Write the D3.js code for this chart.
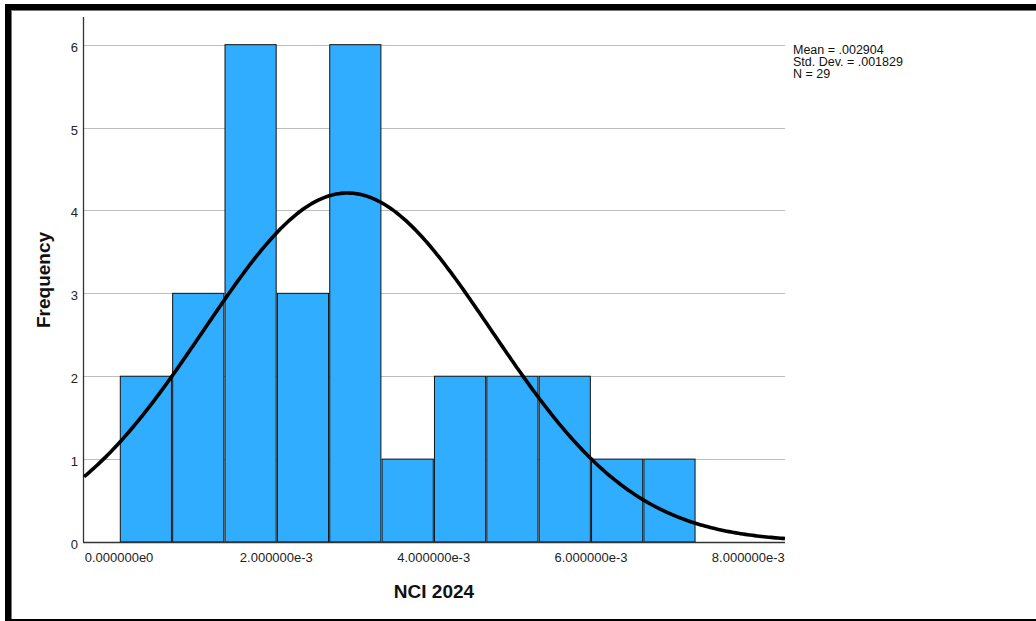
<!DOCTYPE html>
<html>
<head>
<meta charset="utf-8">
<script src="https://cdn.jsdelivr.net/npm/d3@7"></script>
<style>
  html, body { margin: 0; padding: 0; background: #fff; }
  svg { display: block; font-family: "Liberation Sans", Arial, sans-serif; }
</style>
</head>
<body>
<svg id="chart" width="1036" height="621"></svg>
<script>
// ---- data ----
const binCounts = [2, 3, 6, 3, 6, 1, 2, 2, 2, 1, 1];
const binStart = 0.00001;
const binWidth = 0.0006656;
const xTicks = [0, 0.002, 0.004, 0.006, 0.008];
const xTickLabels = ["0.000000e0", "2.000000e-3", "4.000000e-3", "6.000000e-3", "8.000000e-3"];
const yTicks = [0, 1, 2, 3, 4, 5, 6];
const statsLabels = ["Mean = .002904", "Std. Dev. = .001829", "N = 29"];
const mean = 0.002904, sd = 0.001829, nObs = 29;
const xLabel = "NCI 2024", yLabel = "Frequency";

// ---- layout ----
const svg = d3.select("#chart");
const L = 84, R = 785, B = 542, T = 17;
const x = d3.scaleLinear().domain([-0.000445, 0.008466]).range([L, R]);
const y = d3.scaleLinear().domain([0, 6.334]).range([B, T]);

// frame
svg.append("rect").attr("x", 5).attr("y", 4).attr("width", 1031).attr("height", 6).attr("fill", "#000");
svg.append("rect").attr("x", 5).attr("y", 4).attr("width", 6).attr("height", 617).attr("fill", "#000");
svg.append("rect").attr("x", 5).attr("y", 619).attr("width", 1031).attr("height", 2).attr("fill", "#000");
svg.append("line").attr("x1", 11).attr("x2", 1036).attr("y1", 10.5).attr("y2", 10.5).attr("stroke", "#777").attr("stroke-width", 1);
svg.append("line").attr("x1", 11.5).attr("x2", 11.5).attr("y1", 10).attr("y2", 619).attr("stroke", "#777").attr("stroke-width", 1);

// gridlines
svg.append("g").selectAll("line").data(yTicks.filter(d => d > 0)).join("line")
  .attr("x1", L).attr("x2", R)
  .attr("y1", d => Math.round(y(d)) + 0.5).attr("y2", d => Math.round(y(d)) + 0.5)
  .attr("stroke", "#bdbdbd").attr("stroke-width", 1);

// bars
const bins = binCounts.map((c, i) => ({x0: binStart + i * binWidth, x1: binStart + (i + 1) * binWidth, c}));
svg.append("g").selectAll("rect").data(bins).join("rect")
  .attr("x", d => x(d.x0) + 0.5)
  .attr("width", d => x(d.x1) - x(d.x0) - 1.2)
  .attr("y", d => y(d.c))
  .attr("height", d => y(0) - y(d.c))
  .attr("fill", "#31adff")
  .attr("stroke", "#111")
  .attr("stroke-width", 1);

// axes lines
svg.append("line").attr("x1", L - 0.5).attr("x2", L - 0.5).attr("y1", T).attr("y2", B)
  .attr("stroke", "#333").attr("stroke-width", 1.3);
svg.append("line").attr("x1", L - 1).attr("x2", R).attr("y1", B + 0.5).attr("y2", B + 0.5)
  .attr("stroke", "#333").attr("stroke-width", 1.3);

// normal curve (fitted from stated mean / sd / N)
const scale = nObs * binWidth / (sd * Math.sqrt(2 * Math.PI));
const xs = d3.range(0, 301).map(i => x.domain()[0] + (x.domain()[1] - x.domain()[0]) * i / 300);
const line = d3.line().x(d => x(d)).y(d => y(scale * Math.exp(-0.5 * Math.pow((d - mean) / sd, 2))));
svg.append("path").datum(xs).attr("d", line)
  .attr("fill", "none").attr("stroke", "#000").attr("stroke-width", 3.6);

// y tick labels
svg.append("g").selectAll("text").data(yTicks).join("text")
  .attr("x", 78).attr("y", d => y(d) + 7)
  .attr("text-anchor", "end").attr("font-size", 13).attr("fill", "#222")
  .text(d => d);

// x tick labels
svg.append("g").selectAll("text").data(xTicks).join("text")
  .attr("x", d => x(d)).attr("y", 562)
  .attr("text-anchor", "middle").attr("font-size", 13).attr("fill", "#222")
  .text((d, i) => xTickLabels[i]);

// axis titles
svg.append("text").attr("x", 434).attr("y", 598).attr("text-anchor", "middle")
  .attr("font-size", 19).attr("font-weight", "bold").attr("fill", "#111").text(xLabel);
svg.append("text").attr("transform", "translate(50,280) rotate(-90)").attr("text-anchor", "middle")
  .attr("font-size", 19).attr("font-weight", "bold").attr("fill", "#111").text(yLabel);

// stats
svg.append("g").selectAll("text").data(statsLabels).join("text")
  .attr("x", 793).attr("y", (d, i) => 54 + i * 12)
  .attr("font-size", 12.5).attr("fill", "#111").text(d => d);
</script>
</body>
</html>
